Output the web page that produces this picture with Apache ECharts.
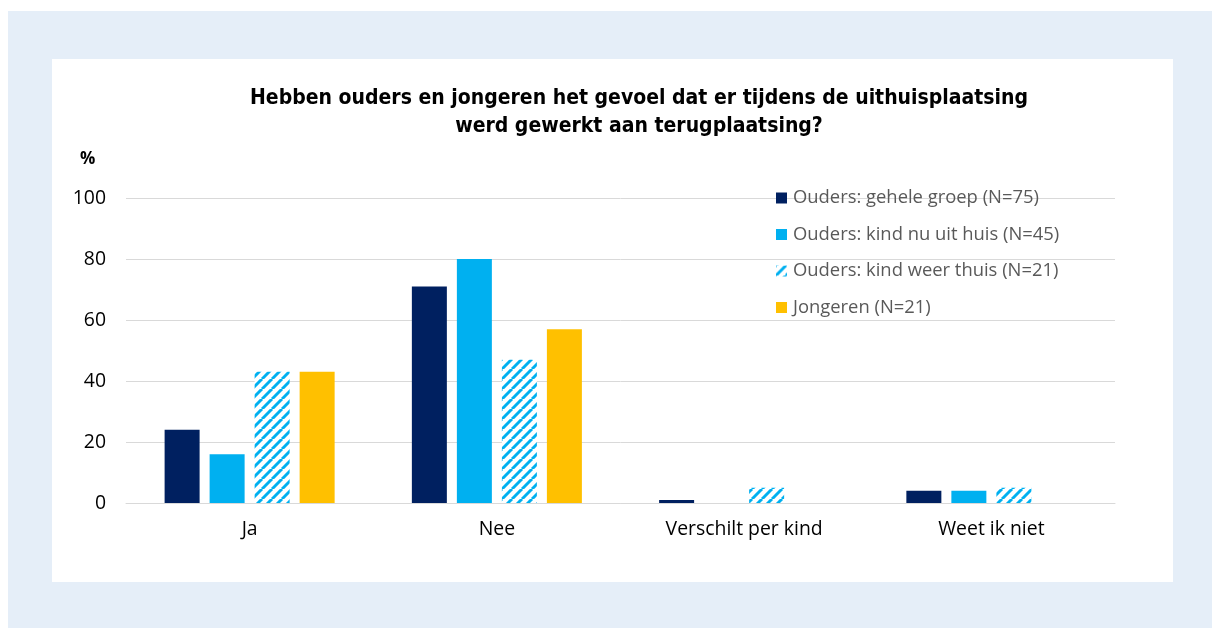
<!DOCTYPE html>
<html>
<head>
<meta charset="utf-8">
<script src="https://cdn.jsdelivr.net/npm/echarts@6/dist/echarts.min.js"></script>
<style>
html,body{margin:0;padding:0;background:#ffffff;}
#wrap{position:absolute;left:8px;top:11px;width:1204px;height:617px;background:#e5eef8;}
#chart{position:absolute;left:52px;top:59px;width:1121px;height:523px;background:#ffffff;}
</style>
</head>
<body>
<div id="wrap"></div>
<div id="chart"></div>
<script>
const categories = ['Ja', 'Nee', 'Verschilt per kind', 'Weet ik niet'];
const seriesNames = ['Ouders: gehele groep (N=75)', 'Ouders: kind nu uit huis (N=45)', 'Ouders: kind weer thuis (N=21)', 'Jongeren (N=21)'];
const oudersGeheel = [24, 71, 1, 4];
const oudersUitHuis = [16, 80, 0, 4];
const oudersWeerThuis = [43, 47, 5, 5];
const jongeren = [43, 57, 0, 0];
const yTicks = [0, 20, 40, 60, 80, 100];

function stripePattern() {
  const s = 10;
  const c = document.createElement('canvas');
  c.width = s; c.height = s;
  const ctx = c.getContext('2d');
  ctx.fillStyle = '#ffffff';
  ctx.fillRect(0, 0, s, s);
  ctx.strokeStyle = '#00b0f0';
  ctx.lineWidth = 3;
  for (let k = -1; k <= 1; k++) {
    ctx.beginPath();
    ctx.moveTo(k * s, s);
    ctx.lineTo(k * s + s, 0);
    ctx.stroke();
  }
  return c;
}

const chart = echarts.init(document.getElementById('chart'), null, {renderer: 'canvas'});
const baseFont = '"Open Sans", "Liberation Sans", Arial, sans-serif';
const offX = 52, offY = 59;
const option = {
  animation: false,
  textStyle: {fontFamily: baseFont},
  title: {
    text: 'Hebben ouders en jongeren het gevoel dat er tijdens de uithuisplaatsing\nwerd gewerkt aan terugplaatsing?',
    left: 634 - offX, top: 80 - offY, textAlign: 'center',
    textStyle: {fontFamily: '"Liberation Sans Narrow", "DejaVu Sans Condensed", sans-serif', fontWeight: 'bold', fontSize: 21, lineHeight: 28, color: '#000000'}
  },
  graphic: [{
    type: 'text', left: 80 - offX, top: 151 - offY,
    style: {text: '%', fontSize: 17, fontFamily: baseFont, fill: '#000000', fontWeight: 'bold'}
  }],
  legend: {
    orient: 'vertical', left: 771 - offX, top: 183 - offY,
    itemWidth: 11, itemHeight: 11, itemGap: 16.5,
    icon: 'rect',
    textStyle: {fontSize: 18.4, lineHeight: 20, color: '#595959', fontFamily: baseFont, padding: [0, 0, 0, 1]},
    data: seriesNames
  },
  grid: {left: 126 - offX, right: 1173 - 1115, top: 198 - offY, bottom: 582 - 503},
  xAxis: {
    type: 'category', data: categories,
    axisTick: {show: false},
    axisLine: {lineStyle: {color: '#d9d9d9', width: 1}},
    axisLabel: {fontSize: 19.4, color: '#000000', margin: 17, fontFamily: baseFont}
  },
  yAxis: {
    type: 'value', min: 0, max: 100, interval: 20,
    axisLine: {show: false}, axisTick: {show: false},
    splitLine: {lineStyle: {color: '#d9d9d9', width: 1}},
    axisLabel: {fontSize: 19.4, color: '#000000', margin: 20, fontFamily: baseFont,
      formatter: v => yTicks.includes(v) ? String(v) : ''}
  },
  series: [
    {name: seriesNames[0], type: 'bar', data: oudersGeheel, barWidth: 35, barGap: '28.6%', itemStyle: {color: '#002060'}},
    {name: seriesNames[1], type: 'bar', data: oudersUitHuis, barWidth: 35, barGap: '28.6%', itemStyle: {color: '#00b0f0'}},
    {name: seriesNames[2], type: 'bar', data: oudersWeerThuis, barWidth: 35, barGap: '28.6%', itemStyle: {color: {image: stripePattern(), repeat: 'repeat'}}},
    {name: seriesNames[3], type: 'bar', data: jongeren, barWidth: 35, barGap: '28.6%', itemStyle: {color: '#ffc000'}}
  ]
};
chart.setOption(option);
</script>
</body>
</html>
